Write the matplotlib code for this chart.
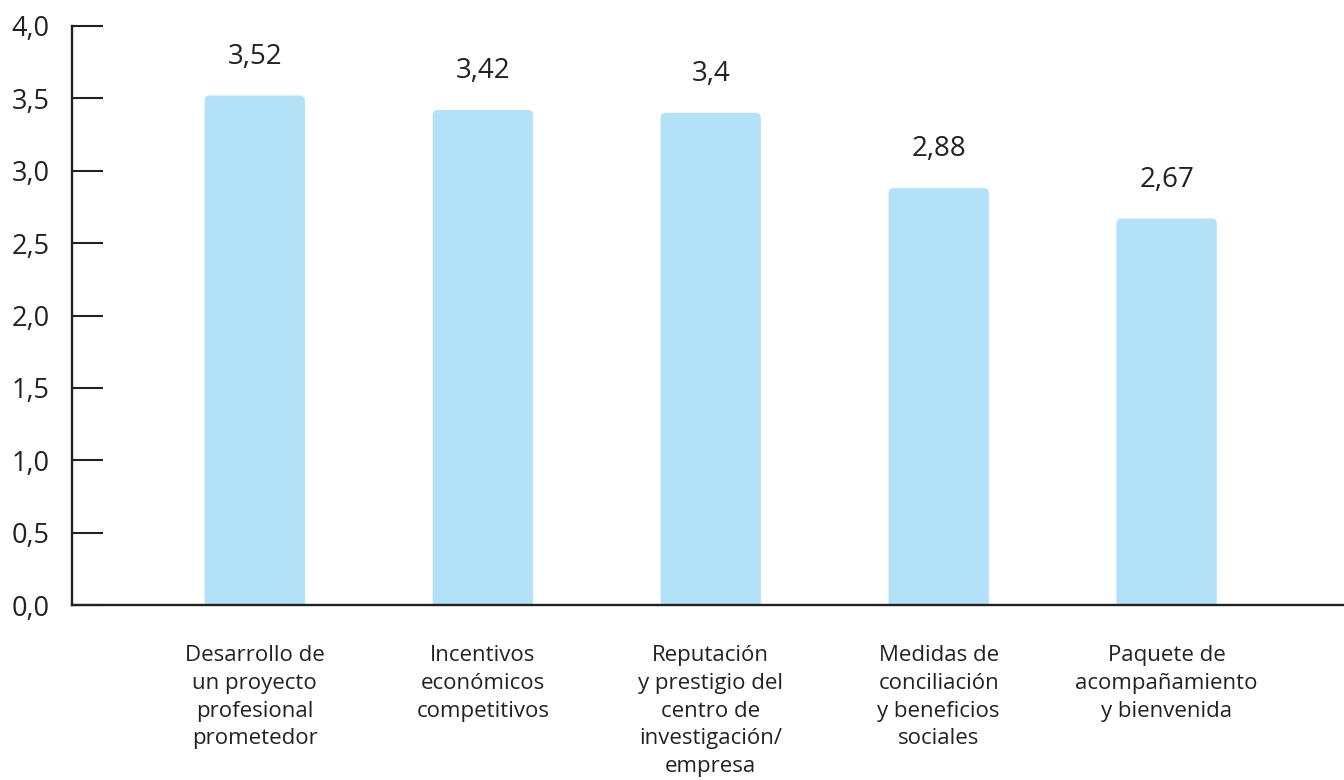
import matplotlib.pyplot as plt
from matplotlib.patches import FancyBboxPatch

# factors ranked by mean score
categories = [
    "Desarrollo de\nun proyecto\nprofesional\nprometedor",
    "Incentivos\neconómicos\ncompetitivos",
    "Reputación\ny prestigio del\ncentro de\ninvestigación/\nempresa",
    "Medidas de\nconciliación\ny beneficios\nsociales",
    "Paquete de\nacompañamiento\ny bienvenida",
]
scores = [3.52, 3.42, 3.4, 2.88, 2.67]
score_labels = ["3,52", "3,42", "3,4", "2,88", "2,67"]
yticks = [0, 0.5, 1, 1.5, 2, 2.5, 3, 3.5, 4]
ytick_labels = ["0,0", "0,5", "1,0", "1,5", "2,0", "2,5", "3,0", "3,5", "4,0"]

bar_color = "#b3e1f7"
ink = "#222222"
font = "Open Sans"

fig = plt.figure(figsize=(13.44, 7.8), dpi=100)
ax = fig.add_axes([72 / 1344, 175 / 780, 1 - 72 / 1344, 579 / 780])

x = list(range(len(categories)))
width = 0.44
bars = ax.bar(x, scores, width=width, color=bar_color)

# swap plain rectangles for ones with softly rounded tops
aspect = (ax.bbox.width / 5.58) / (ax.bbox.height / 4.0)
for rect in bars:
    rect.set_visible(False)
    fb = FancyBboxPatch((rect.get_x() + 0.012, -0.05), rect.get_width(), rect.get_height() + 0.05,
                        boxstyle="round,pad=0,rounding_size=0.022",
                        mutation_aspect=aspect, facecolor=bar_color,
                        edgecolor="none", zorder=1)
    ax.add_patch(fb)

for xi, s, lab in zip(x, scores, score_labels):
    ax.annotate(lab, (xi + 0.012, s), xytext=(0, 23), textcoords="offset points",
                ha="center", va="baseline", fontsize=20, color=ink,
                family=font)

ax.set_xlim(-0.79, 4.79)
ax.set_ylim(0, 4)

ax.set_yticks(yticks)
ax.set_yticklabels(ytick_labels, fontsize=19.5, color=ink, family=font)
ax.tick_params(axis="y", direction="in", length=22, width=1.5, color=ink, pad=16)

ax.set_xticks([xi + 0.012 for xi in x])
ax.set_xticklabels(categories, fontsize=16, color=ink, family=font,
                   linespacing=1.42)
ax.tick_params(axis="x", length=0, pad=29)

for side in ("top", "right"):
    ax.spines[side].set_visible(False)
for side in ("left", "bottom"):
    ax.spines[side].set_linewidth(1.7)
    ax.spines[side].set_color(ink)
    ax.spines[side].set_zorder(3)

fig.savefig("out.png", dpi=100)
